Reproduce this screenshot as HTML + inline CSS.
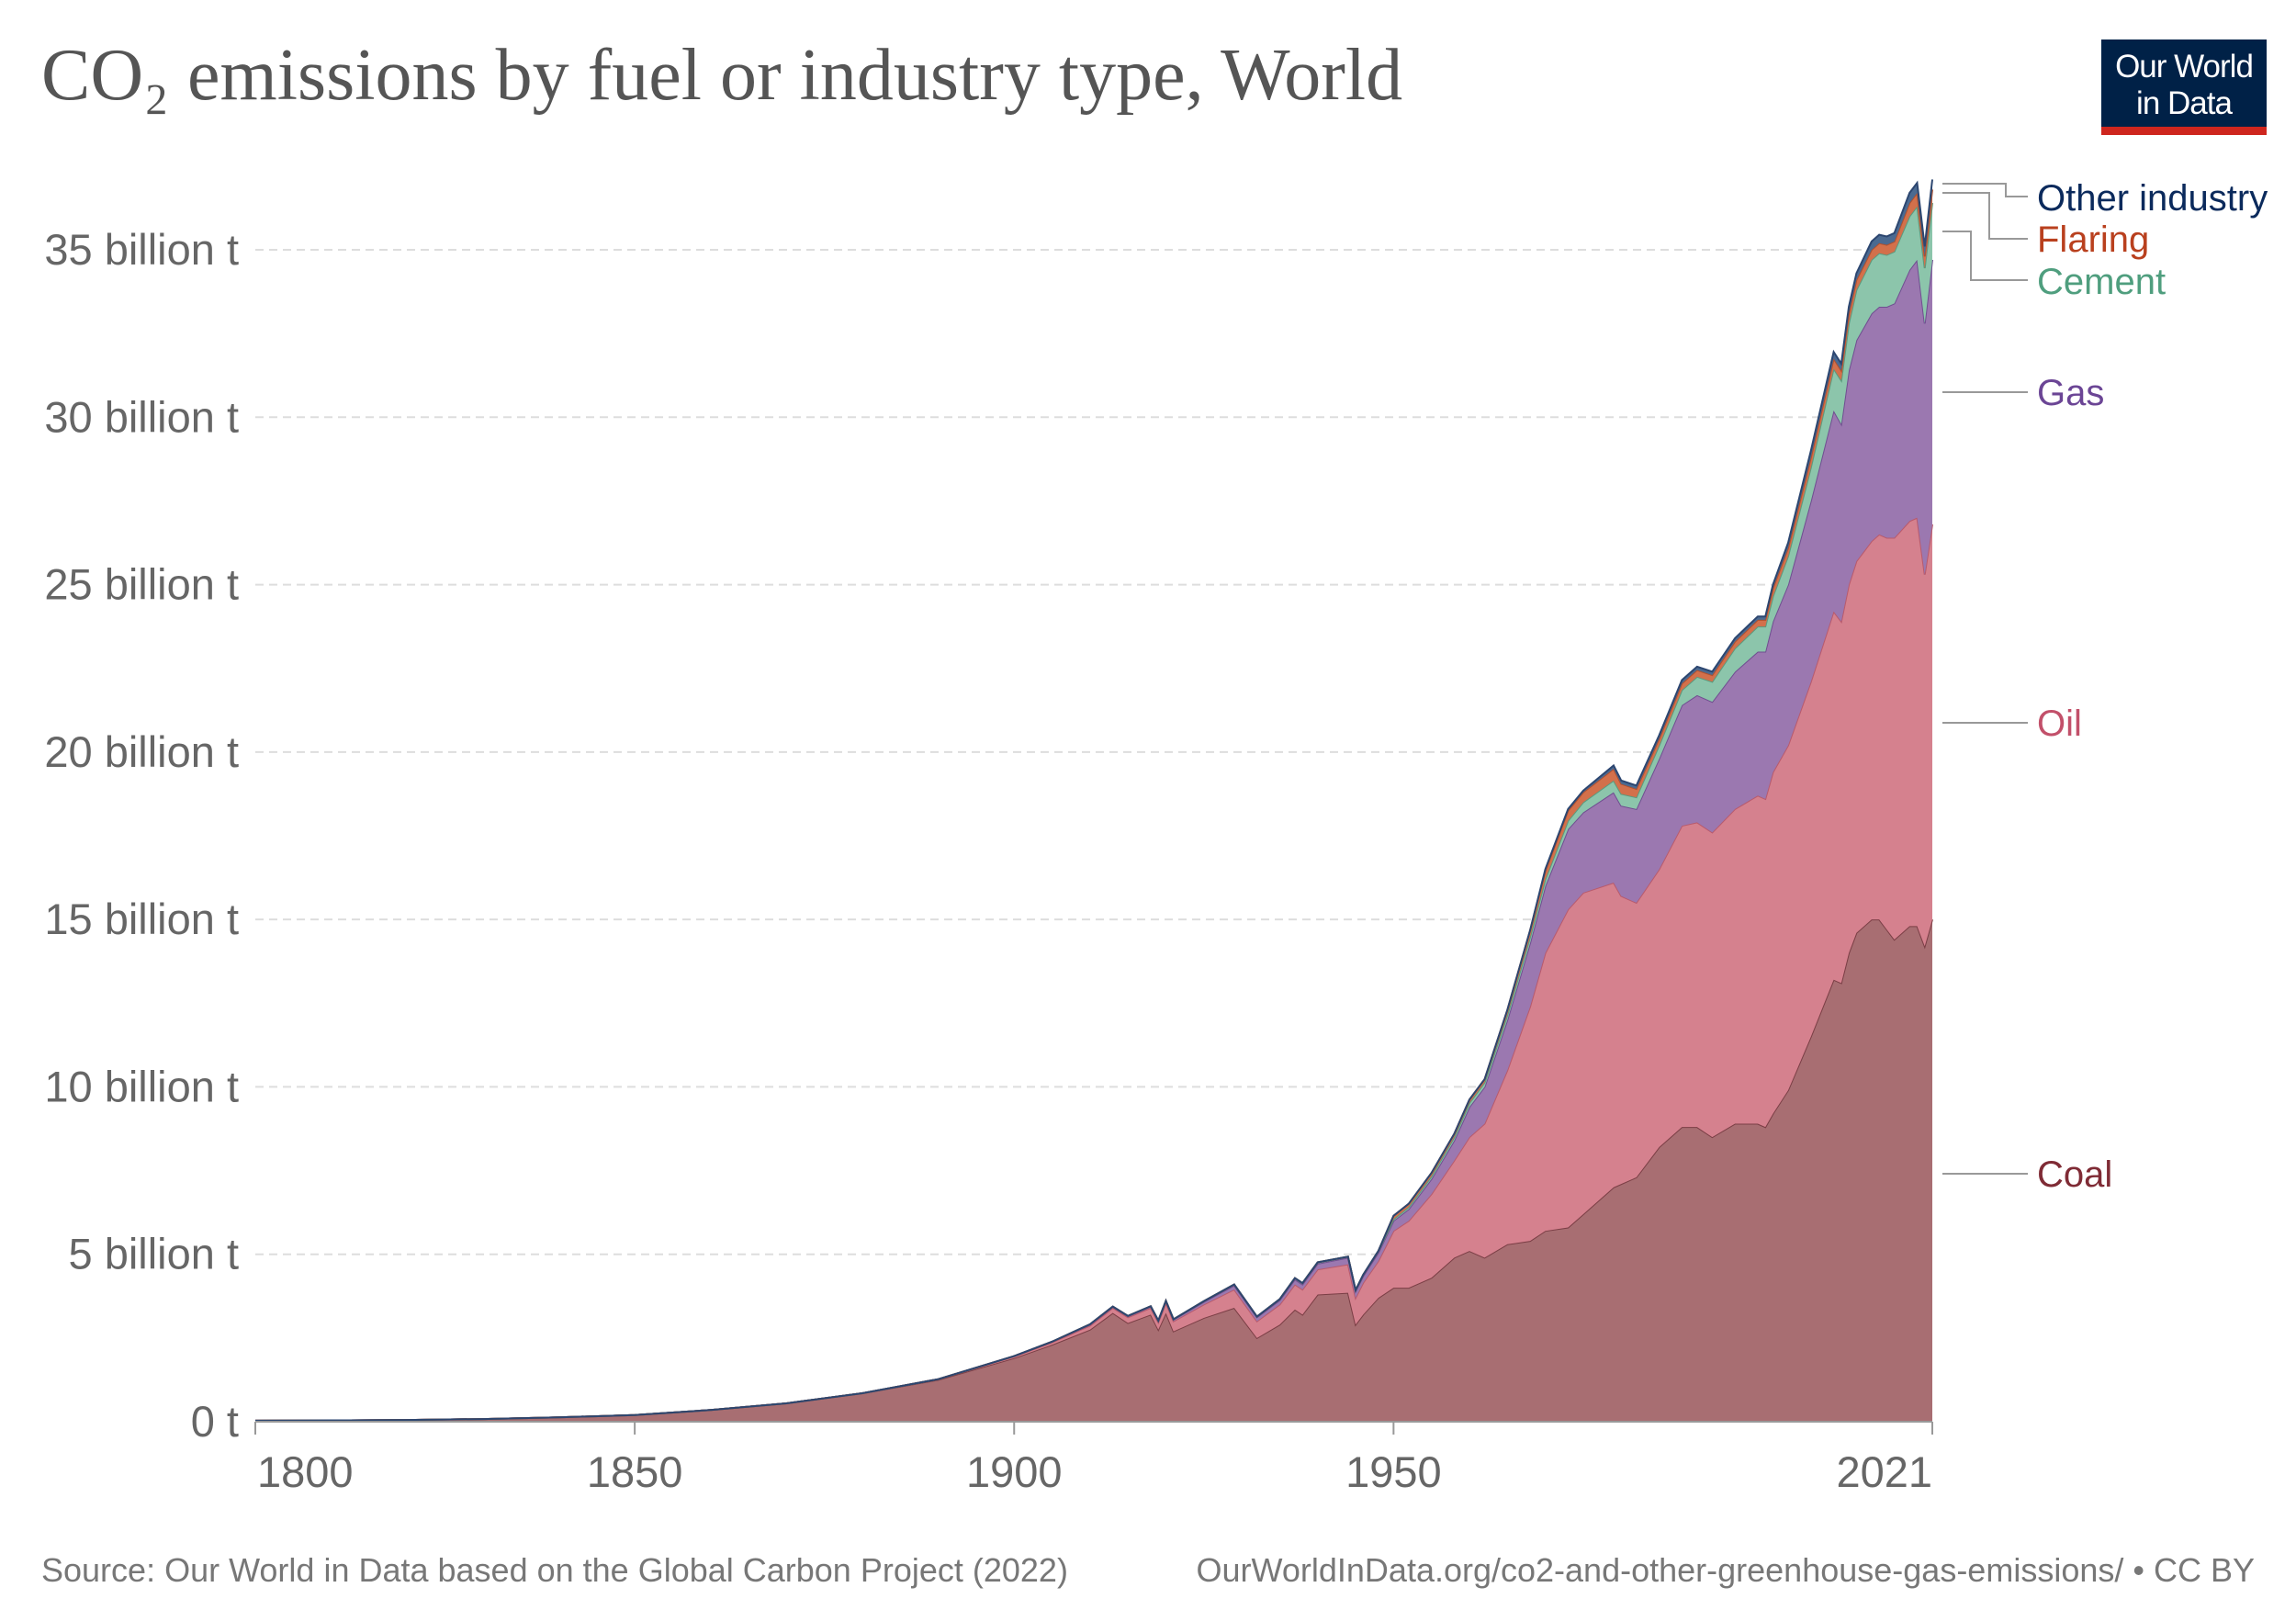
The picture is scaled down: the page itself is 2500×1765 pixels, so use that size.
<!DOCTYPE html>
<html><head><meta charset="utf-8"><style>
body{margin:0;background:#fff}
svg{display:block;font-family:"Liberation Sans",sans-serif}
</style></head><body>
<svg id="chart" width="2500" height="1765" viewBox="0 0 2500 1765">
<rect width="2500" height="1765" fill="#fff"/>
<text x="45" y="108" font-family="Liberation Serif,serif" font-size="80" fill="#555">CO₂ emissions by fuel or industry type, World</text>
<g>
<rect x="2288" y="43" width="180" height="97" fill="#002147"/>
<rect x="2288" y="138" width="180" height="9" fill="#ce261e"/>
<text x="2378" y="84" text-anchor="middle" font-size="35" fill="#fff" letter-spacing="-1">Our World</text>
<text x="2378" y="124" text-anchor="middle" font-size="35" fill="#fff" letter-spacing="-1">in Data</text>
</g>
<g id="grid"></g>
<g id="areas"></g>
<g id="axes"></g>
<g id="legend"></g>
<text x="45" y="1722" font-size="36" fill="#777">Source: Our World in Data based on the Global Carbon Project (2022)</text>
<text x="2455" y="1722" text-anchor="end" font-size="36" fill="#777">OurWorldInData.org/co2-and-other-greenhouse-gas-emissions/ • CC BY</text>
</svg>
<script>
const years=[1800,1810,1820,1830,1840,1850,1860,1870,1880,1890,1900,1905,1910,1913,1915,1918,1919,1920,1921,1925,1929,1932,1935,1937,1938,1940,1944,1945,1946,1948,1950,1952,1955,1958,1960,1962,1965,1968,1970,1973,1975,1979,1980,1982,1985,1988,1990,1992,1995,1998,1999,2000,2002,2005,2008,2009,2010,2011,2013,2014,2015,2016,2018,2019,2020,2021];
const coal=[.03,.04,.05,.08,.13,.2,.35,.55,.85,1.25,1.9,2.3,2.75,3.25,2.95,3.2,2.75,3.25,2.7,3.1,3.4,2.5,2.9,3.35,3.2,3.8,3.85,2.9,3.2,3.7,4.0,4.0,4.3,4.9,5.1,4.9,5.3,5.4,5.7,5.8,6.2,7.0,7.1,7.3,8.2,8.8,8.8,8.5,8.9,8.9,8.8,9.2,9.9,11.5,13.2,13.1,14.0,14.6,15.0,15.0,14.7,14.4,14.8,14.8,14.2,15.0];
const oil=[0,0,0,0,0,0,0,0,0,.02,.05,.07,.12,.15,.17,.2,.22,.3,.3,.4,.55,.5,.6,.75,.75,.75,.85,.8,.95,1.1,1.7,2.0,2.5,2.9,3.4,4.0,5.2,7.0,8.3,9.5,9.6,9.1,8.6,8.2,8.3,9.0,9.1,9.1,9.4,9.8,9.8,10.2,10.3,10.6,11.0,10.8,11.0,11.1,11.3,11.5,11.7,12.0,12.1,12.2,11.1,11.8];
const gas=[0,0,0,0,0,0,0,0,0,0,.01,.02,.03,.03,.03,.04,.04,.05,.05,.08,.12,.12,.13,.15,.15,.17,.2,.2,.2,.25,.3,.35,.45,.6,.9,1.1,1.5,1.9,2.0,2.4,2.4,2.7,2.7,2.8,3.3,3.6,3.8,3.9,4.1,4.3,4.4,4.5,4.8,5.4,6.0,5.9,6.4,6.6,6.8,6.8,6.9,7.0,7.5,7.7,7.5,7.9];
const cement=[0,0,0,0,0,0,0,0,0,0,0,0,.01,.01,.01,.01,.01,.01,.01,.02,.03,.02,.03,.04,.04,.04,.03,.03,.04,.05,.05,.06,.08,.1,.12,.13,.15,.18,.2,.25,.3,.35,.35,.35,.4,.45,.55,.6,.7,.75,.75,.75,.85,1.0,1.25,1.3,1.4,1.5,1.6,1.6,1.55,1.55,1.6,1.6,1.65,1.7];
const flaring=[0,0,0,0,0,0,0,0,0,0,0,0,0,0,0,0,0,0,0,0,0,0,0,0,0,0,0,0,0,0,.1,.1,.1,.1,.1,.1,.15,.2,.25,.3,.3,.35,.3,.25,.2,.2,.2,.2,.2,.2,.2,.25,.25,.3,.3,.3,.3,.3,.3,.3,.3,.3,.4,.4,.35,.4];
const other=[0,0,0,0,0,0,0,0,0,0,0,0,0,0,0,0,0,0,0,0,0,0,0,0,0,0,0,0,0,0,0,0,0,0,0,0,0,0,.05,.05,.05,.1,.1,.1,.1,.1,.1,.1,.1,.1,.1,.1,.15,.2,.2,.2,.2,.2,.25,.25,.25,.25,.3,.3,.3,.3];
const yTicks=[0,5,10,15,20,25,30,35];
const yTickLabels=["0 t","5 billion t","10 billion t","15 billion t","20 billion t","25 billion t","30 billion t","35 billion t"];
const xTicks=[1800,1850,1900,1950,2021];
const seriesNames=["Coal","Oil","Gas","Cement","Flaring","Other industry"];

const NS="http://www.w3.org/2000/svg";
const X0=278,X1=2104,Y0=1548,Y35=272;
const x=y=>X0+(y-1800)*(X1-X0)/221;
const yv=v=>Y0-v*(Y0-Y35)/35;
function mk(tag,attrs,parent){const e=document.createElementNS(NS,tag);for(const k in attrs)e.setAttribute(k,attrs[k]);parent.appendChild(e);return e;}
const grid=document.getElementById('grid'),areas=document.getElementById('areas'),axes=document.getElementById('axes'),legend=document.getElementById('legend');
yTicks.forEach((t,i)=>{
  if(t>0){const l=mk('line',{x1:X0,x2:X1,y1:yv(t),y2:yv(t),stroke:'#ddd','stroke-width':2,'stroke-dasharray':'9,6'},grid);
  
  }
  const tx=mk('text',{x:260,y:yv(t)+16,'text-anchor':'end','font-size':47,fill:'#666'},axes);
  tx.textContent=yTickLabels[i];
  
  
});
const series=[coal,oil,gas,cement,flaring,other];
const fills=['#a86e72','#d5818e','#9b78b0','#8cc5ab','#d3704b','#4b6a91'];
const strokes=['#7a3e45','#b85a6c','#6f4e90','#5a9a7e','#b0502e','#2c4670'];
let base=years.map(()=>0);
series.forEach((s,si)=>{
  const top=base.map((b,i)=>b+s[i]);
  let d='M'+years.map((yr,i)=>x(yr)+','+yv(top[i])).join('L');
  for(let i=years.length-1;i>=0;i--)d+='L'+x(years[i])+','+yv(base[i]);
  d+='Z';
  const p=mk('path',{d:d,fill:fills[si],stroke:'none'},areas);
  
  
  const ln=mk('path',{d:'M'+years.map((yr,i)=>x(yr)+','+yv(top[i])).join('L'),fill:'none',stroke:strokes[si],'stroke-width':2},areas);
  
  
  base=top;
});
const ax=mk('line',{x1:X0,x2:X1,y1:Y0,y2:Y0,stroke:'#999','stroke-width':2},axes);


xTicks.forEach((t,i)=>{
  const tk=mk('line',{x1:x(t),x2:x(t),y1:Y0,y2:Y0+14,stroke:'#999','stroke-width':2},axes);
  
  
  const anc=i==0?'start':(i==xTicks.length-1?'end':'middle');
  const tx=mk('text',{x:x(t)+(i==0?2:0),y:1619,'text-anchor':anc,'font-size':47,fill:'#666'},axes);
  tx.textContent=t;
  
  
});
const leg=[
 ['Other industry','#0b2a5c','M2115,200H2184V214H2208',229],
 ['Flaring','#b9401e','M2115,210H2166V260H2208',274],
 ['Cement','#4f9e7e','M2115,252H2146V305H2208',320],
 ['Gas','#6b4595','M2115,427H2208',441],
 ['Oil','#c2506a','M2115,787H2208',801],
 ['Coal','#7f2b35','M2115,1278H2208',1292]];
leg.forEach(l=>{
  const p=mk('path',{d:l[2],fill:'none',stroke:'#999','stroke-width':2},legend);
  
  
  const t=mk('text',{x:2218,y:l[3],'font-size':40,fill:l[1]},legend);
  t.textContent=l[0];
  
  
});
</script>
</body></html>
